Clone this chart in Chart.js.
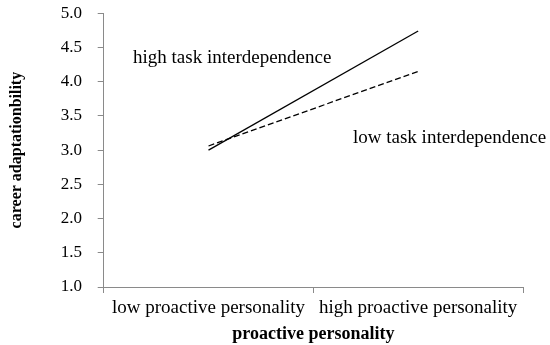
<!DOCTYPE html>
<html>
<head>
<meta charset="utf-8">
<script src="https://cdn.jsdelivr.net/npm/chart.js@4"></script>
<style>
  body { margin: 0; background: #fff; }
  #wrap { width: 550px; height: 345px; }
</style>
</head>
<body>
<div id="wrap"><canvas id="chart" width="550" height="345"></canvas></div>
<script>
// data
const categories = ['low proactive personality', 'high proactive personality'];
const highTask = [3.0, 4.74];
const lowTask = [3.06, 4.15];
const yTicks = [1.0, 1.5, 2.0, 2.5, 3.0, 3.5, 4.0, 4.5, 5.0];

const serif = '"Liberation Serif", "Times New Roman", serif';
const axisColor = '#8a8a8a';

// text labels placed next to the lines
const labelPlugin = {
    id: 'lineLabels',
    afterDraw(chart) {
        const ctx = chart.ctx;
        const y = chart.scales.y;
        ctx.save();
        ctx.font = '19px ' + serif;
        ctx.fillStyle = '#000';
        ctx.textBaseline = 'middle';
        ctx.textAlign = 'left';
        ctx.fillText('high task interdependence', 133, y.getPixelForValue(4.35));
        ctx.fillText('low task interdependence', 353, y.getPixelForValue(3.17));
        ctx.restore();
    }
};

const ctx = document.getElementById('chart').getContext('2d');
const chart = new Chart(ctx, {
    type: 'line',
    data: {
        labels: categories,
        datasets: [{
            label: 'high task interdependence',
            data: highTask,
            borderColor: '#000',
            borderWidth: 1.3,
            pointRadius: 0,
            fill: false
        },
        {
            label: 'low task interdependence',
            data: lowTask,
            borderColor: '#000',
            borderWidth: 1.3,
            borderDash: [6, 3],
            pointRadius: 0,
            fill: false
        }]
    },
    options: {
        responsive: false,
        animation: false,
        layout: { padding: { top: 0, right: 27, left: 4, bottom: -0.4 } },
        plugins: {
            legend: { display: false },
            tooltip: { enabled: false }
        },
        scales: {
            x: {
                offset: true,
                grid: { offset: true, drawOnChartArea: false, tickLength: 6, color: axisColor },
                border: { color: axisColor },
                ticks: { color: '#000', font: { family: serif, size: 19 }, padding: 4, maxRotation: 0 },
                title: {
                    display: true,
                    text: 'proactive personality',
                    color: '#000',
                    font: { family: serif, size: 18, weight: 'bold' },
                    padding: { top: 0, bottom: 0 }
                }
            },
            y: {
                min: 1,
                max: 5,
                afterBuildTicks(axis) {
                    axis.ticks = yTicks.map(v => ({ value: v }));
                },
                grid: { drawOnChartArea: false, tickLength: 6, color: axisColor },
                border: { color: axisColor },
                ticks: {
                    color: '#000',
                    font: { family: serif, size: 17 },
                    padding: 3,
                    // trailing spaces keep the gap between labels and tick marks
                    callback: v => v.toFixed(1) + '   '
                },
                title: {
                    display: true,
                    text: 'career adaptationbility',
                    color: '#000',
                    font: { family: serif, size: 16, weight: 'bold' },
                    padding: { top: 3, bottom: 31.5 }
                }
            }
        }
    },
    plugins: [labelPlugin]
});
</script>
</body>
</html>
